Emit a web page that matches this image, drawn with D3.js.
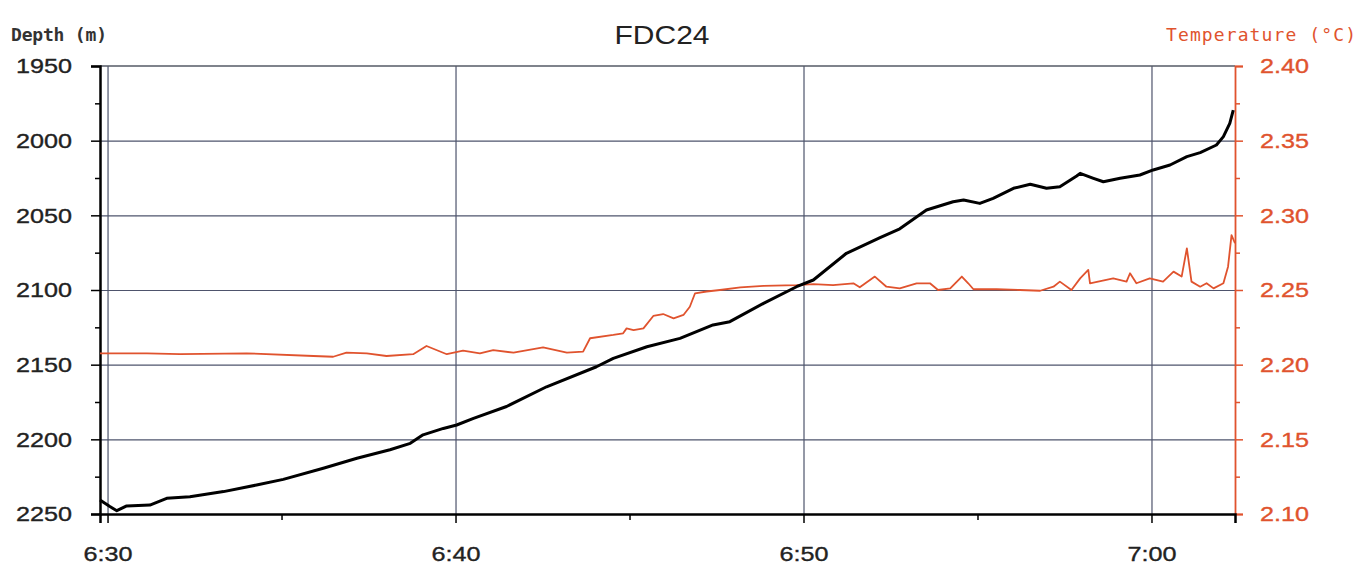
<!DOCTYPE html>
<html>
<head>
<meta charset="utf-8">
<script src="https://cdn.jsdelivr.net/npm/d3@7"></script>
<style>
  body { margin: 0; background: #fff; }
  svg { display: block; }
</style>
</head>
<body>
<svg id="chart" width="1366" height="568"></svg>
<script>
// values
var chartTitle = "FDC24";
var depthTicks = [1950, 2000, 2050, 2100, 2150, 2200, 2250];
var tempTicks = [2.10, 2.15, 2.20, 2.25, 2.30, 2.35, 2.40];
var timeTicks = ["6:30:00", "6:40:00", "6:50:00", "7:00:00"];
var timeMinorTicks = ["6:35:00", "6:45:00", "6:55:00"];

var depthTimes = ["6:29:47","6:30:04","6:30:16","6:30:33","6:31:13","6:31:42","6:32:22","6:33:20","6:34:17","6:35:03",
    "6:36:12","6:37:10","6:38:07","6:38:42","6:39:04","6:39:39","6:40:02","6:40:31","6:41:28","6:42:37",
    "6:44:03","6:44:32","6:45:30","6:46:27","6:47:24","6:47:53","6:48:51","6:49:48","6:50:17","6:51:14",
    "6:52:12","6:52:46","6:53:32","6:54:18","6:54:36","6:55:04","6:55:27","6:56:02","6:56:31","6:56:59",
    "6:57:22","6:57:51","6:57:57","6:58:20","6:58:37","6:59:06","6:59:40","7:00:03","7:00:32","7:01:01",
    "7:01:24","7:01:52","7:02:04","7:02:15","7:02:21"];
var depthValues = [2240.6,2245,2247.8,2244.6,2244,2239.5,2238.4,2235,2230.6,2226.8,
    2219.4,2212.7,2207,2202.7,2197,2192.7,2190.4,2186,2178,2164.8,
    2151.4,2145.8,2138,2132.4,2123.4,2121.2,2109,2097.8,2093.3,2075.4,
    2065,2059,2046.4,2040.9,2039.7,2042,2038.6,2031.9,2029.2,2031.9,
    2030.8,2023.7,2021.9,2025.2,2027.5,2025.2,2023,2019.6,2016.3,2010.7,
    2008,2002.9,1997.3,1988.4,1979.5];

var tempTimes = ["6:29:47","6:31:08","6:32:05","6:34:00","6:35:55","6:36:29","6:36:52","6:37:27","6:38:01","6:38:47",
    "6:39:10","6:39:45","6:40:13","6:40:42","6:41:05","6:41:40","6:42:31","6:43:12","6:43:40","6:43:52",
    "6:44:32","6:44:49","6:44:55","6:45:07","6:45:24","6:45:41","6:45:58","6:46:16","6:46:33","6:46:44",
    "6:46:53","6:47:13","6:47:36","6:48:11","6:48:51","6:49:48","6:50:17","6:50:51","6:51:26","6:51:37",
    "6:52:03","6:52:23","6:52:46","6:53:15","6:53:38","6:53:52","6:54:13","6:54:33","6:54:44","6:54:53",
    "6:55:33","6:56:13","6:56:48","6:57:11","6:57:22","6:57:42","6:57:57","6:58:11","6:58:14","6:58:54",
    "6:59:17","6:59:23","6:59:34","6:59:57","7:00:20","7:00:38","7:00:52","7:01:01","7:01:09","7:01:24",
    "7:01:35","7:01:47","7:02:04","7:02:12","7:02:18","7:02:24"];
var tempValues = [2.2076,2.2076,2.207,2.2076,2.2058,2.2053,2.208,2.2076,2.2058,2.207,
    2.2125,2.207,2.2094,2.2076,2.2098,2.208,2.2116,2.208,2.2087,2.2177,
    2.2199,2.221,2.2243,2.2232,2.2243,2.2326,2.2339,2.231,2.2333,2.2388,
    2.2478,2.249,2.25,2.2518,2.2527,2.2533,2.254,2.2533,2.2545,2.2518,
    2.259,2.2522,2.2511,2.2545,2.2545,2.25,2.2511,2.259,2.2545,2.2505,
    2.2505,2.25,2.2495,2.2522,2.2556,2.25,2.2578,2.2634,2.2545,2.2578,
    2.2556,2.2612,2.2545,2.2578,2.2556,2.2623,2.259,2.2779,2.2556,2.2522,
    2.2545,2.2511,2.2545,2.2656,2.2868,2.2813];

var parseTime = d3.timeParse("%H:%M:%S");
var TEMP_COLOR = "#e0532e";
var GRID_COLOR = "#4e546c";
var SX = 1.2; // the picture is stretched sideways

var svg = d3.select("#chart"),
    plotLeft = 100, plotRight = 1235, plotTop = 66, plotBottom = 514;

var x = d3.scaleTime()
    .domain([parseTime("6:29:47"), parseTime("7:02:24")])
    .range([plotLeft, plotRight]);
var yDepth = d3.scaleLinear().domain([1950, 2250]).range([plotTop, plotBottom]);
var yTemp = d3.scaleLinear().domain([2.10, 2.40]).range([plotBottom, plotTop]);

// grid
var grid = svg.append("g").attr("stroke", GRID_COLOR).attr("stroke-width", 1.2);
grid.selectAll("line.h")
    .data(depthTicks.slice(1, -1))
    .enter().append("line")
    .attr("x1", plotLeft).attr("x2", plotRight)
    .attr("y1", function(d) { return yDepth(d) + 0.5; })
    .attr("y2", function(d) { return yDepth(d) + 0.5; });
grid.selectAll("line.v")
    .data(timeTicks.map(parseTime))
    .enter().append("line")
    .attr("y1", plotTop).attr("y2", plotBottom)
    .attr("x1", function(d) { return x(d) + 0.5; })
    .attr("x2", function(d) { return x(d) + 0.5; });

// top frame line
svg.append("line")
    .attr("x1", plotLeft).attr("x2", plotRight)
    .attr("y1", plotTop).attr("y2", plotTop)
    .attr("stroke", "#555a66").attr("stroke-width", 1.5);

// left axis (depth)
var axisLeft = svg.append("g")
    .attr("transform", "translate(" + plotLeft + ",0)")
    .call(d3.axisLeft(yDepth).tickValues(depthTicks).tickSize(9).tickPadding(19).tickFormat(d3.format("d")));
svg.append("g")
    .attr("transform", "translate(" + plotLeft + ",0)")
    .call(d3.axisLeft(yDepth).tickValues(d3.range(1975, 2250, 50)).tickSize(5).tickFormat(""))
    .call(function(g) { g.select(".domain").remove(); })
    .selectAll("line").attr("stroke-width", 1.5);

// right axis (temperature)
var axisRight = svg.append("g")
    .attr("transform", "translate(" + plotRight + ",0)")
    .call(d3.axisRight(yTemp).tickValues(tempTicks).tickSize(8).tickPadding(17).tickFormat(d3.format(".2f")));
svg.append("g")
    .attr("transform", "translate(" + plotRight + ",0)")
    .call(d3.axisRight(yTemp).tickValues(d3.range(2.125, 2.40, 0.05)).tickSize(5).tickFormat(""))
    .call(function(g) { g.select(".domain").remove(); })
    .selectAll("line").attr("stroke", TEMP_COLOR).attr("stroke-width", 1.5);

// bottom axis (time)
var axisBottom = svg.append("g")
    .attr("transform", "translate(0," + plotBottom + ")")
    .call(d3.axisBottom(x).tickValues(timeTicks.map(parseTime)).tickSize(9).tickPadding(23)
        .tickFormat(d3.timeFormat("%-H:%M")));
svg.append("g")
    .attr("transform", "translate(0," + plotBottom + ")")
    .call(d3.axisBottom(x).tickValues(timeMinorTicks.map(parseTime)).tickSize(6).tickFormat(""))
    .call(function(g) { g.select(".domain").remove(); })
    .selectAll("line").attr("stroke-width", 1.5);

// styles of the axes
[axisLeft, axisBottom].forEach(function(g) {
    g.select(".domain").attr("stroke", "#000").attr("stroke-width", 2.5);
    g.selectAll(".tick line").attr("stroke", "#000").attr("stroke-width", 1.5);
});
axisRight.select(".domain").attr("stroke", TEMP_COLOR).attr("stroke-width", 1.8);
axisRight.selectAll(".tick line").attr("stroke", TEMP_COLOR).attr("stroke-width", 1.5);

svg.selectAll(".tick text")
    .attr("font-family", "'Liberation Sans', Arial, sans-serif")
    .attr("font-size", 21)
    .attr("fill", "#222")
    .attr("stroke", "#222")
    .attr("stroke-width", 0.35);
axisRight.selectAll(".tick text").attr("fill", TEMP_COLOR).attr("stroke", TEMP_COLOR);

// horizontal stretch of the labels, about the tick position
[axisLeft, axisRight].forEach(function(g) {
    g.selectAll(".tick text").each(function() {
        var t = d3.select(this);
        t.attr("x", +t.attr("x") / SX).attr("transform", "scale(" + SX + ",1)");
    });
});
axisBottom.selectAll(".tick text").attr("transform", "scale(" + SX + ",1)");

// data lines
var depthData = depthTimes.map(function(t, i) { return {t: parseTime(t), v: depthValues[i]}; });
var tempData = tempTimes.map(function(t, i) { return {t: parseTime(t), v: tempValues[i]}; });

svg.append("path")
    .datum(tempData)
    .attr("fill", "none")
    .attr("stroke", TEMP_COLOR)
    .attr("stroke-width", 1.8)
    .attr("stroke-linejoin", "round")
    .attr("d", d3.line().x(function(d) { return x(d.t); }).y(function(d) { return yTemp(d.v); }));

svg.append("path")
    .datum(depthData)
    .attr("fill", "none")
    .attr("stroke", "#000")
    .attr("stroke-width", 3)
    .attr("stroke-linejoin", "round")
    .attr("d", d3.line().x(function(d) { return x(d.t); }).y(function(d) { return yDepth(d.v); }));

// titles
svg.append("text")
    .attr("transform", "translate(662,44) scale(" + SX + ",1)")
    .attr("text-anchor", "middle")
    .attr("font-family", "'Liberation Sans', Arial, sans-serif")
    .attr("font-size", 25)
    .attr("fill", "#222")
    .text(chartTitle);

svg.append("text")
    .attr("x", 11).attr("y", 41)
    .attr("font-family", "'DejaVu Sans Mono', monospace")
    .attr("font-size", 18)
    .attr("font-weight", "bold")
    .attr("fill", "#333")
    .attr("textLength", 96)
    .text("Depth (m)");

svg.append("text")
    .attr("x", 1166).attr("y", 41)
    .attr("font-family", "'DejaVu Sans Mono', monospace")
    .attr("font-size", 18)
    .attr("fill", TEMP_COLOR)
    .attr("textLength", 190)
    .text("Temperature (°C)");
</script>
</body>
</html>
